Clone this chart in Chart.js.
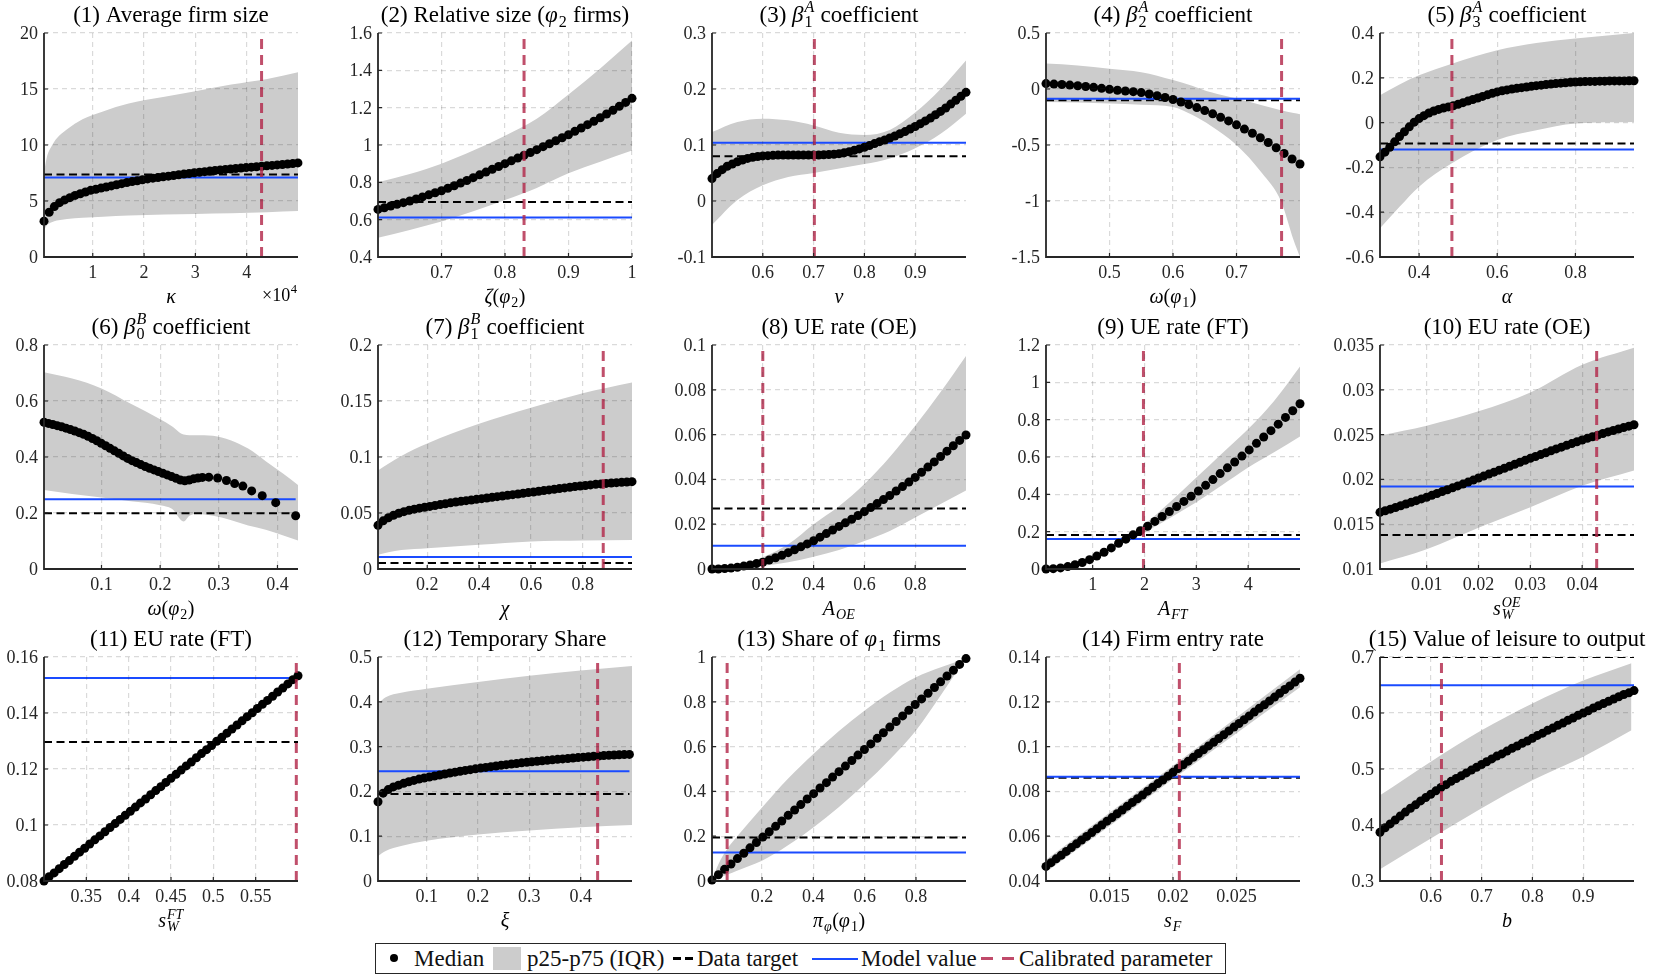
<!DOCTYPE html>
<html><head><meta charset="utf-8">
<script src="https://cdn.jsdelivr.net/npm/chart.js@4.4.1/dist/chart.umd.min.js"></script>
<style>
html,body{margin:0;padding:0;background:#fff;}
body{width:1662px;height:976px;overflow:hidden;position:relative;}
canvas.pn{position:absolute;}
#legend{position:absolute;left:375px;top:943px;width:851px;height:31px;box-sizing:border-box;border:1.4px solid #262626;background:#fff;font:23px 'Liberation Serif',serif;color:#111;white-space:nowrap;}
#legend > *{position:absolute;}
#legend .tx{top:50%;transform:translateY(-52%);line-height:1;}
#legend .dot{width:8px;height:8px;border-radius:50%;background:#000;top:10px;}
#legend .sq{width:28px;height:23px;background:#cccccc;top:3px;}
#legend .dk{width:20px;height:2.5px;top:13px;background:repeating-linear-gradient(90deg,#000 0 8px,transparent 8px 12px);}
#legend .bl{width:46px;height:2px;top:13.5px;background:#1a4bff;}
#legend .rd{width:33px;height:3px;top:13px;background:repeating-linear-gradient(90deg,#c04a6a 0 12px,transparent 12px 21px);}
</style></head><body>
<div id="legend">
 <span class="dot" style="left:14px"></span><span class="tx" style="left:38px">Median</span>
 <span class="sq" style="left:117px"></span><span class="tx" style="left:151px">p25-p75 (IQR)</span>
 <span class="dk" style="left:297px"></span><span class="tx" style="left:321px">Data target</span>
 <span class="bl" style="left:436px"></span><span class="tx" style="left:485px">Model value</span>
 <span class="rd" style="left:605px"></span><span class="tx" style="left:643px">Calibrated parameter</span>
</div>
<script>
// ---------------- DATA ----------------
// (1) Average firm size vs kappa
const p1X=[500,1510,2520,3530,4540,5550,6560,7570,8580,9590,10600,11610,12620,13630,14640,15650,16660,17670,18680,19690,20700,21710,22720,23730,24740,25750,26760,27770,28780,29790,30800,31810,32820,33830,34840,35850,36860,37870,38880,39890,40900,41910,42920,43930,44940,45950,46960,47970,48980,49990];
const p1Med=[3.2,4.0,4.5,4.85,5.1,5.3,5.5,5.65,5.8,5.95,6.05,6.15,6.25,6.35,6.45,6.55,6.65,6.73,6.81,6.9,6.97,7.04,7.1,7.16,7.22,7.28,7.34,7.4,7.46,7.52,7.57,7.62,7.67,7.72,7.77,7.82,7.86,7.9,7.94,7.98,8.02,8.06,8.1,8.14,8.18,8.22,8.26,8.3,8.34,8.4];
const p1BandX=[500,1000,2000,3000,5000,8000,12000,17000,24000,30000,37000,44000,50000];
const p1Hi=[7.5,8.8,9.9,10.6,11.4,12.3,13.0,13.7,14.3,14.8,15.4,15.9,16.5];
const p1Lo=[2.4,2.8,3.1,3.25,3.4,3.5,3.6,3.7,3.8,3.85,3.9,4.0,4.1];
const p1Target=7.37, p1Model=7.10, p1Calib=42900;
const p1XRange=[500,50000], p1YRange=[0,20];
const p1XTicks=[10000,20000,30000,40000], p1XTickLabels=['1','2','3','4'];
const p1YTicks=[0,5,10,15,20];

// (2) Relative size
const p2X=[0.60,0.61,0.62,0.63,0.64,0.65,0.66,0.67,0.68,0.69,0.70,0.71,0.72,0.73,0.74,0.75,0.76,0.77,0.78,0.79,0.80,0.81,0.82,0.83,0.84,0.85,0.86,0.87,0.88,0.89,0.90,0.91,0.92,0.93,0.94,0.95,0.96,0.97,0.98,0.99,1.00];
const p2Med=[0.655,0.664,0.673,0.682,0.691,0.700,0.711,0.722,0.733,0.744,0.755,0.768,0.782,0.796,0.810,0.825,0.840,0.855,0.870,0.885,0.900,0.915,0.930,0.945,0.960,0.975,0.991,1.007,1.023,1.039,1.055,1.073,1.091,1.109,1.127,1.146,1.166,1.186,1.207,1.228,1.250];
const p2BandX=[0.6,0.65,0.7,0.75,0.8,0.85,0.9,0.95,1.0];
const p2Hi=[0.80,0.845,0.90,0.97,1.05,1.14,1.27,1.41,1.56];
const p2Lo=[0.503,0.545,0.59,0.645,0.705,0.77,0.848,0.91,0.97];
const p2Target=0.694, p2Model=0.612, p2Calib=0.83;
const p2XRange=[0.6,1.0], p2YRange=[0.4,1.6];
const p2XTicks=[0.7,0.8,0.9,1], p2YTicks=[0.4,0.6,0.8,1,1.2,1.4,1.6];

// (3) beta1A
const p3X=[0.50,0.51,0.52,0.53,0.54,0.55,0.56,0.57,0.58,0.59,0.60,0.61,0.62,0.63,0.64,0.65,0.66,0.67,0.68,0.69,0.70,0.71,0.72,0.73,0.74,0.75,0.76,0.77,0.78,0.79,0.80,0.81,0.82,0.83,0.84,0.85,0.86,0.87,0.88,0.89,0.90,0.91,0.92,0.93,0.94,0.95,0.96,0.97,0.98,0.99,1.00];
const p3Med=[0.040,0.049,0.056,0.062,0.066,0.070,0.073,0.076,0.078,0.0795,0.0805,0.081,0.0815,0.082,0.082,0.082,0.082,0.082,0.082,0.082,0.082,0.0822,0.0825,0.083,0.0835,0.0845,0.086,0.088,0.0905,0.093,0.096,0.099,0.1025,0.106,0.109,0.1125,0.116,0.120,0.124,0.1285,0.133,0.138,0.143,0.148,0.154,0.160,0.166,0.173,0.180,0.187,0.194];
const p3BandX=[0.5,0.55,0.6,0.65,0.7,0.75,0.8,0.85,0.9,0.95,1.0];
const p3Hi=[0.123,0.141,0.147,0.144,0.135,0.122,0.118,0.127,0.158,0.20,0.251];
const p3Lo=[-0.043,0.0016,0.028,0.043,0.050,0.058,0.066,0.076,0.094,0.12,0.156];
const p3Target=0.080, p3Model=0.104, p3Calib=0.7015;
const p3XRange=[0.5,1.0], p3YRange=[-0.1,0.3];
const p3XTicks=[0.6,0.7,0.8,0.9], p3YTicks=[-0.1,0,0.1,0.2,0.3];

// (4) beta2A
const p4X=[0.4,0.4125,0.425,0.4375,0.45,0.4625,0.475,0.4875,0.5,0.5125,0.525,0.5375,0.55,0.5625,0.575,0.5875,0.6,0.6125,0.625,0.6375,0.65,0.6625,0.675,0.6875,0.7,0.7125,0.725,0.7375,0.75,0.7625,0.775,0.7875,0.8];
const p4Med=[0.048,0.044,0.040,0.035,0.029,0.022,0.015,0.006,-0.003,-0.011,-0.018,-0.024,-0.032,-0.045,-0.06,-0.076,-0.094,-0.116,-0.14,-0.166,-0.193,-0.222,-0.253,-0.285,-0.32,-0.358,-0.395,-0.435,-0.478,-0.525,-0.575,-0.625,-0.67];
const p4BandX=[0.4,0.45,0.5,0.55,0.6,0.63,0.66,0.7,0.74,0.77,0.79,0.8];
const p4Hi=[0.227,0.21,0.18,0.15,0.08,0.03,-0.03,-0.085,-0.145,-0.19,-0.215,-0.225];
const p4Lo=[-0.115,-0.12,-0.13,-0.14,-0.16,-0.23,-0.33,-0.5,-0.75,-1.0,-1.35,-1.5];
const p4Target=-0.10, p4Model=-0.088, p4Calib=0.771;
const p4XRange=[0.4,0.8], p4YRange=[-1.5,0.5];
const p4XTicks=[0.5,0.6,0.7], p4YTicks=[-1.5,-1,-0.5,0,0.5];

// (5) beta3A
const p5X=[0.3,0.3125,0.325,0.3375,0.35,0.3625,0.375,0.3875,0.4,0.4125,0.425,0.4375,0.45,0.4625,0.475,0.4875,0.5,0.5125,0.525,0.5375,0.55,0.5625,0.575,0.5875,0.6,0.6125,0.625,0.6375,0.65,0.6625,0.675,0.6875,0.7,0.7125,0.725,0.7375,0.75,0.7625,0.775,0.7875,0.8,0.8125,0.825,0.8375,0.85,0.8625,0.875,0.8875,0.9,0.9125,0.925,0.9375,0.95];
const p5Med=[-0.153,-0.132,-0.11,-0.086,-0.062,-0.041,-0.019,0.002,0.018,0.031,0.043,0.052,0.059,0.065,0.07,0.075,0.082,0.089,0.096,0.103,0.11,0.117,0.124,0.131,0.137,0.142,0.146,0.15,0.153,0.156,0.159,0.162,0.165,0.167,0.17,0.172,0.174,0.176,0.178,0.18,0.181,0.182,0.183,0.184,0.184,0.185,0.185,0.186,0.186,0.186,0.186,0.187,0.187];
const p5BandX=[0.3,0.35,0.4,0.484,0.6,0.7,0.8,0.95];
const p5Hi=[0.122,0.17,0.211,0.263,0.323,0.355,0.375,0.40];
const p5Lo=[-0.472,-0.376,-0.286,-0.182,-0.078,-0.034,-0.004,0.003];
const p5Target=-0.093, p5Model=-0.12, p5Calib=0.484;
const p5XRange=[0.3,0.95], p5YRange=[-0.6,0.4];
const p5XTicks=[0.4,0.6,0.8], p5YTicks=[-0.6,-0.4,-0.2,0,0.2,0.4];

// (6) beta0B
const p6X=[0.002,0.0095,0.017,0.0245,0.032,0.0395,0.047,0.0545,0.062,0.0695,0.077,0.0845,0.092,0.0995,0.107,0.1145,0.122,0.1295,0.137,0.1445,0.152,0.1595,0.167,0.1745,0.182,0.1895,0.197,0.2045,0.212,0.2195,0.227,0.2345,0.242,0.2495,0.257,0.2645,0.272,0.283,0.298,0.313,0.327,0.341,0.356,0.374,0.397,0.431];
const p6Med=[0.524,0.520,0.516,0.512,0.508,0.503,0.498,0.493,0.487,0.481,0.474,0.466,0.458,0.449,0.44,0.431,0.422,0.413,0.404,0.395,0.387,0.38,0.373,0.366,0.36,0.354,0.348,0.342,0.336,0.33,0.324,0.318,0.315,0.318,0.322,0.325,0.327,0.328,0.325,0.316,0.305,0.296,0.279,0.262,0.237,0.19];
const p6BandX=[0.002,0.05,0.1,0.15,0.2,0.22,0.24,0.25,0.26,0.29,0.32,0.35,0.38,0.41,0.435];
const p6Hi=[0.703,0.68,0.645,0.59,0.535,0.51,0.48,0.478,0.478,0.476,0.46,0.43,0.385,0.34,0.30];
const p6Lo=[0.282,0.268,0.255,0.242,0.228,0.215,0.17,0.19,0.196,0.19,0.175,0.155,0.14,0.12,0.102];
const p6Target=0.199, p6Model=0.249, p6Calib=null;
const p6XRange=[0.002,0.435], p6YRange=[0,0.8];
const p6XTicks=[0.1,0.2,0.3,0.4], p6YTicks=[0,0.2,0.4,0.6,0.8];

// (7) beta1B
const p7X=[0.01,0.03,0.05,0.07,0.09,0.11,0.13,0.15,0.17,0.19,0.21,0.23,0.25,0.27,0.29,0.31,0.33,0.35,0.37,0.39,0.41,0.43,0.45,0.47,0.49,0.51,0.53,0.55,0.57,0.59,0.61,0.63,0.65,0.67,0.69,0.71,0.73,0.75,0.77,0.79,0.81,0.83,0.85,0.87,0.89,0.91,0.93,0.95,0.97,0.99];
const p7Med=[0.0390,0.0430,0.0458,0.0480,0.0498,0.0512,0.0524,0.0534,0.0543,0.0551,0.0559,0.0567,0.0575,0.0583,0.0591,0.0598,0.0604,0.0610,0.0616,0.0622,0.0628,0.0634,0.0640,0.0646,0.0652,0.0658,0.0664,0.0670,0.0676,0.0682,0.0688,0.0694,0.0700,0.0706,0.0712,0.0718,0.0724,0.0730,0.0736,0.0741,0.0746,0.0751,0.0756,0.0760,0.0764,0.0768,0.0771,0.0774,0.0777,0.0780];
const p7BandX=[0.01,0.05,0.1,0.2,0.4,0.6,0.8,0.99];
const p7Hi=[0.088,0.094,0.101,0.112,0.1296,0.144,0.157,0.1666];
const p7Lo=[0.0127,0.015,0.017,0.0186,0.0216,0.0246,0.0255,0.026];
const p7Target=0.0053, p7Model=0.0107, p7Calib=0.879;
const p7XRange=[0.01,0.99], p7YRange=[0,0.2];
const p7XTicks=[0.2,0.4,0.6,0.8], p7YTicks=[0,0.05,0.1,0.15,0.2];

// (8) UE rate (OE)
const p8X=[0,0.025,0.05,0.075,0.1,0.125,0.15,0.175,0.2,0.225,0.25,0.275,0.3,0.325,0.35,0.375,0.4,0.425,0.45,0.475,0.5,0.525,0.55,0.575,0.6,0.625,0.65,0.675,0.7,0.725,0.75,0.775,0.8,0.825,0.85,0.875,0.9,0.925,0.95,0.975,1.0];
const p8Med=[0.0000,0.0000,0.0002,0.0004,0.0008,0.0013,0.0018,0.0024,0.0030,0.0040,0.0050,0.0061,0.0073,0.0086,0.0099,0.0112,0.0126,0.0142,0.0158,0.0174,0.0190,0.0206,0.0222,0.0239,0.0256,0.0274,0.0292,0.0310,0.0328,0.0348,0.0368,0.0388,0.0409,0.0432,0.0455,0.0478,0.0502,0.0526,0.0550,0.0574,0.0598];
const p8BandX=[0,0.1,0.2,0.3,0.4,0.5,0.6,0.7,0.8,0.9,1.0];
const p8Hi=[0,0.0015,0.0052,0.011,0.020,0.028,0.0379,0.050,0.0639,0.079,0.0951];
const p8Lo=[0,0.0004,0.0015,0.003,0.0055,0.0085,0.0125,0.017,0.023,0.029,0.035];
const p8Target=0.027, p8Model=0.0104, p8Calib=0.2;
const p8XRange=[0,1.0], p8YRange=[0,0.1];
const p8XTicks=[0.2,0.4,0.6,0.8], p8YTicks=[0,0.02,0.04,0.06,0.08,0.1];

// (9) UE rate (FT)
const p9X=[0.1,0.24,0.38,0.52,0.66,0.8,0.94,1.08,1.22,1.36,1.5,1.64,1.78,1.92,2.06,2.2,2.34,2.48,2.62,2.76,2.9,3.04,3.18,3.32,3.46,3.6,3.74,3.88,4.02,4.16,4.3,4.44,4.58,4.72,4.86,5.0];
const p9Med=[0.000,0.002,0.006,0.013,0.023,0.035,0.050,0.069,0.090,0.113,0.138,0.160,0.183,0.205,0.229,0.255,0.281,0.308,0.335,0.362,0.390,0.418,0.448,0.479,0.511,0.542,0.573,0.605,0.638,0.673,0.707,0.741,0.776,0.812,0.848,0.885];
const p9BandX=[0.1,0.5,1.0,1.5,2.0,2.5,3.0,3.5,4.0,4.5,5.0];
const p9Hi=[0.002,0.015,0.068,0.148,0.24,0.36,0.49,0.62,0.75,0.9,1.085];
const p9Lo=[0,0.009,0.05,0.128,0.196,0.275,0.357,0.45,0.544,0.625,0.71];
const p9Target=0.182, p9Model=0.1605, p9Calib=1.98;
const p9XRange=[0.1,5.0], p9YRange=[0,1.2];
const p9XTicks=[1,2,3,4], p9YTicks=[0,0.2,0.4,0.6,0.8,1,1.2];

// (10) EU rate (OE)
const p10X=[0.001,0.002,0.003,0.004,0.005,0.006,0.007,0.008,0.009,0.010,0.011,0.012,0.013,0.014,0.015,0.016,0.017,0.018,0.019,0.020,0.021,0.022,0.023,0.024,0.025,0.026,0.027,0.028,0.029,0.030,0.031,0.032,0.033,0.034,0.035,0.036,0.037,0.038,0.039,0.040,0.041,0.042,0.043,0.044,0.045,0.046,0.047,0.048,0.049,0.050];
const p10Med=[0.01632,0.01650,0.01668,0.01687,0.01706,0.01725,0.01744,0.01763,0.01782,0.01801,0.01822,0.01843,0.01864,0.01885,0.01906,0.01927,0.01948,0.01970,0.01992,0.02015,0.02037,0.02059,0.02081,0.02103,0.02125,0.02147,0.02169,0.02191,0.02213,0.02235,0.02256,0.02277,0.02298,0.02319,0.02340,0.02360,0.02380,0.02400,0.02420,0.02440,0.02458,0.02476,0.02494,0.02512,0.02530,0.02546,0.02562,0.02578,0.02594,0.02610];
const p10BandX=[0.001,0.01,0.02,0.03,0.04,0.05];
const p10Hi=[0.0249,0.026,0.0276,0.0297,0.0328,0.0347];
const p10Lo=[0.0106,0.0122,0.0146,0.0169,0.0193,0.021];
const p10Target=0.0138, p10Model=0.0192, p10Calib=0.0428;
const p10XRange=[0.001,0.05], p10YRange=[0.01,0.035];
const p10XTicks=[0.01,0.02,0.03,0.04], p10YTicks=[0.01,0.015,0.02,0.025,0.03,0.035];

// (11) EU rate (FT)
const p11X=[0.300,0.306,0.312,0.318,0.324,0.330,0.336,0.342,0.348,0.354,0.360,0.366,0.372,0.378,0.384,0.390,0.396,0.402,0.408,0.414,0.420,0.426,0.432,0.438,0.444,0.450,0.456,0.462,0.468,0.474,0.480,0.486,0.492,0.498,0.504,0.510,0.516,0.522,0.528,0.534,0.540,0.546,0.552,0.558,0.564,0.570,0.576,0.582,0.588,0.594,0.600];
const p11Med=[0.0800,0.0815,0.0829,0.0844,0.0859,0.0873,0.0888,0.0903,0.0917,0.0932,0.0947,0.0961,0.0976,0.0991,0.1005,0.1020,0.1035,0.1049,0.1064,0.1079,0.1093,0.1108,0.1123,0.1137,0.1152,0.1167,0.1181,0.1196,0.1211,0.1225,0.1240,0.1255,0.1269,0.1284,0.1299,0.1313,0.1328,0.1343,0.1357,0.1372,0.1387,0.1401,0.1416,0.1431,0.1445,0.1460,0.1475,0.1489,0.1504,0.1519,0.1533];
const p11BandX=[], p11Hi=[], p11Lo=[];
const p11Target=0.1296, p11Model=0.1525, p11Calib=0.598;
const p11XRange=[0.3,0.6], p11YRange=[0.08,0.16];
const p11XTicks=[0.35,0.4,0.45,0.5,0.55], p11YTicks=[0.08,0.1,0.12,0.14,0.16];

// (12) Temporary share
const p12X=[0.005,0.015,0.025,0.035,0.045,0.055,0.065,0.075,0.085,0.095,0.105,0.115,0.125,0.135,0.145,0.155,0.165,0.175,0.185,0.195,0.205,0.215,0.225,0.235,0.245,0.255,0.265,0.275,0.285,0.295,0.305,0.315,0.325,0.335,0.345,0.355,0.365,0.375,0.385,0.395,0.405,0.415,0.425,0.435,0.445,0.455,0.465,0.475,0.485,0.495];
const p12Med=[0.177,0.196,0.204,0.210,0.214,0.218,0.2215,0.2245,0.2275,0.230,0.2322,0.2345,0.2367,0.2389,0.241,0.243,0.245,0.2468,0.2486,0.2503,0.252,0.2536,0.2552,0.2568,0.2583,0.2597,0.2611,0.2624,0.2637,0.2649,0.2661,0.2672,0.2683,0.2694,0.2705,0.2715,0.2725,0.2735,0.2745,0.2755,0.2764,0.2773,0.2782,0.2791,0.2799,0.2806,0.2812,0.2817,0.2821,0.2825];
const p12BandX=[0.005,0.02,0.05,0.1,0.2,0.3,0.4,0.5];
const p12Hi=[0.395,0.41,0.42,0.429,0.444,0.458,0.47,0.48];
const p12Lo=[0.056,0.067,0.078,0.09,0.104,0.113,0.12,0.125];
const p12Target=0.194, p12Model=0.2448, p12Calib=0.433;
const p12XRange=[0.005,0.5], p12YRange=[0,0.5];
const p12XTicks=[0.1,0.2,0.3,0.4], p12YTicks=[0,0.1,0.2,0.3,0.4,0.5];

// (13) Share of phi1 firms
const p13X=[0.005,0.030,0.054,0.079,0.104,0.129,0.153,0.178,0.203,0.228,0.253,0.277,0.302,0.327,0.351,0.376,0.401,0.426,0.451,0.475,0.500,0.525,0.550,0.574,0.599,0.624,0.649,0.673,0.698,0.723,0.748,0.772,0.797,0.822,0.847,0.872,0.896,0.921,0.946,0.970,0.995];
const p13Med=[0.004,0.028,0.052,0.076,0.100,0.124,0.148,0.172,0.196,0.220,0.244,0.268,0.293,0.317,0.341,0.366,0.390,0.415,0.439,0.464,0.488,0.513,0.538,0.562,0.587,0.612,0.637,0.662,0.687,0.712,0.737,0.762,0.788,0.813,0.838,0.864,0.889,0.915,0.941,0.967,0.993];
const p13BandX=[0.005,0.03,0.068,0.1,0.2,0.3,0.4,0.5,0.6,0.7,0.8,0.9,0.95,0.995];
const p13Hi=[0.005,0.075,0.149,0.195,0.328,0.455,0.567,0.67,0.761,0.843,0.91,0.955,0.975,0.993];
const p13Lo=[0.003,0.015,0.03,0.045,0.09,0.158,0.239,0.33,0.433,0.545,0.672,0.835,0.92,0.993];
const p13Target=0.194, p13Model=0.127, p13Calib=0.064;
const p13XRange=[0.005,0.995], p13YRange=[0,1];
const p13XTicks=[0.2,0.4,0.6,0.8], p13YTicks=[0,0.2,0.4,0.6,0.8,1];

// (14) Firm entry rate
const p14X=[0.0100,0.0104,0.0108,0.0112,0.0116,0.0120,0.0124,0.0128,0.0132,0.0136,0.0140,0.0144,0.0148,0.0152,0.0156,0.0160,0.0164,0.0168,0.0172,0.0176,0.0180,0.0184,0.0188,0.0192,0.0196,0.0200,0.0204,0.0208,0.0212,0.0216,0.0220,0.0224,0.0228,0.0232,0.0236,0.0240,0.0244,0.0248,0.0252,0.0256,0.0260,0.0264,0.0268,0.0272,0.0276,0.0280,0.0284,0.0288,0.0292,0.0296,0.0300];
const p14Med=[0.0465,0.0482,0.0499,0.0515,0.0532,0.0549,0.0566,0.0583,0.0599,0.0616,0.0633,0.0650,0.0667,0.0683,0.0700,0.0717,0.0734,0.0751,0.0767,0.0784,0.0801,0.0818,0.0835,0.0851,0.0868,0.0885,0.0902,0.0919,0.0935,0.0952,0.0969,0.0986,0.1003,0.1019,0.1036,0.1053,0.1070,0.1087,0.1103,0.1120,0.1137,0.1154,0.1171,0.1187,0.1204,0.1221,0.1238,0.1255,0.1271,0.1288,0.1305];
const p14BandX=[0.01,0.015,0.02,0.025,0.03];
const p14Hi=[0.0495,0.0705,0.0915,0.113,0.1345];
const p14Lo=[0.044,0.0645,0.0855,0.106,0.1265];
const p14Target=0.0861, p14Model=0.0865, p14Calib=0.0205;
const p14XRange=[0.01,0.03], p14YRange=[0.04,0.14];
const p14XTicks=[0.015,0.02,0.025], p14YTicks=[0.04,0.06,0.08,0.1,0.12,0.14];

// (15) Value of leisure to output
const p15X=[0.50,0.51,0.52,0.53,0.54,0.55,0.56,0.57,0.58,0.59,0.60,0.61,0.62,0.63,0.64,0.65,0.66,0.67,0.68,0.69,0.70,0.71,0.72,0.73,0.74,0.75,0.76,0.77,0.78,0.79,0.80,0.81,0.82,0.83,0.84,0.85,0.86,0.87,0.88,0.89,0.90,0.91,0.92,0.93,0.94,0.95,0.96,0.97,0.98,0.99,1.00];
const p15Med=[0.387,0.395,0.402,0.409,0.416,0.423,0.430,0.436,0.443,0.449,0.455,0.461,0.467,0.472,0.478,0.483,0.488,0.493,0.498,0.503,0.508,0.513,0.518,0.523,0.527,0.532,0.537,0.541,0.546,0.550,0.555,0.560,0.564,0.569,0.573,0.578,0.582,0.587,0.591,0.596,0.600,0.604,0.609,0.613,0.617,0.621,0.625,0.629,0.633,0.636,0.640];
const p15BandX=[0.5,0.6,0.7,0.8,0.9,0.995];
const p15Hi=[0.453,0.513,0.569,0.617,0.658,0.689];
const p15Lo=[0.321,0.376,0.43,0.48,0.522,0.569];
const p15Target=0.70, p15Model=0.6495, p15Calib=0.621;
const p15XRange=[0.5,1.0], p15YRange=[0.3,0.7];
const p15XTicks=[0.6,0.7,0.8,0.9], p15YTicks=[0.3,0.4,0.5,0.6,0.7];

// ---------------- RENDERING ----------------
const FONT="'Liberation Serif', serif";
Chart.defaults.font.family=FONT;
const BAND='#cccccc', BLUE='#1a4bff', RED='rgba(178,40,74,0.82)', GRID='rgba(38,38,38,0.17)', AX='#262626';
const LEFTS=[44,378,712,1046,1380], TOPS=[33,345,657], PW=254, PH=224;
const ML=62, MT=40, MR=34, MB=62;
const TICK=18;

function R(t,o){return Object.assign({t:t,i:false},o||{});}
function I(t,o){return Object.assign({t:t,i:true},o||{});}
function fnt(s,it){return (it?'italic ':'')+s+"px 'Liberation Serif'";}
function drawRich(ctx,parts,cx,by,size,align){
  const ss=size*0.7; let total=0;
  const segs=parts.map(p=>{
    ctx.font=fnt(size,p.i); const w0=p.t?ctx.measureText(p.t).width:0;
    let w1=0,w2=0;
    if(p.sub){ctx.font=fnt(ss,p.si);w1=ctx.measureText(p.sub).width;}
    if(p.sup){ctx.font=fnt(ss,p.pi);w2=ctx.measureText(p.sup).width;}
    const w=w0+Math.max(w1,w2)+((p.sub||p.sup)?1.5:0);
    total+=w; return {p:p,w0:w0,w:w};
  });
  let x=align==='center'?cx-total/2:(align==='right'?cx-total:cx);
  ctx.textBaseline='alphabetic'; ctx.textAlign='left'; ctx.fillStyle='#000';
  segs.forEach(s=>{
    const p=s.p;
    if(p.t){ctx.font=fnt(size,p.i);ctx.fillText(p.t,x,by);}
    const xs=x+s.w0+(p.i?1:0.5);
    if(p.sub){ctx.font=fnt(ss,p.si);ctx.fillText(p.sub,xs,by+size*0.22);}
    if(p.sup){ctx.font=fnt(ss,p.pi);ctx.fillText(p.sup,xs,by-size*0.42);}
    x+=s.w;
  });
}
function pts(xs,ys){const n=Math.min(xs.length,ys.length),o=[];for(let i=0;i<n;i++)o.push({x:xs[i],y:ys[i]});return o;}

const panels=[
 {title:[R('(1) Average firm size')], xlabel:[I('κ')], exp:true,
  x:p1X,med:p1Med,bx:p1BandX,hi:p1Hi,lo:p1Lo,target:p1Target,model:p1Model,calib:p1Calib,xr:p1XRange,yr:p1YRange,xt:p1XTicks,xtl:p1XTickLabels,yt:p1YTicks},
 {title:[R('(2) Relative size ('),I('φ',{sub:'2'}),R(' firms)')], xlabel:[I('ζ'),R('('),I('φ',{sub:'2'}),R(')')],
  x:p2X,med:p2Med,bx:p2BandX,hi:p2Hi,lo:p2Lo,target:p2Target,model:p2Model,calib:p2Calib,xr:p2XRange,yr:p2YRange,xt:p2XTicks,yt:p2YTicks},
 {title:[R('(3) '),I('β',{sub:'1',sup:'A',pi:true}),R(' coefficient')], xlabel:[I('ν')],
  x:p3X,med:p3Med,bx:p3BandX,hi:p3Hi,lo:p3Lo,target:p3Target,model:p3Model,calib:p3Calib,xr:p3XRange,yr:p3YRange,xt:p3XTicks,yt:p3YTicks},
 {title:[R('(4) '),I('β',{sub:'2',sup:'A',pi:true}),R(' coefficient')], xlabel:[I('ω'),R('('),I('φ',{sub:'1'}),R(')')],
  x:p4X,med:p4Med,bx:p4BandX,hi:p4Hi,lo:p4Lo,target:p4Target,model:p4Model,calib:p4Calib,xr:p4XRange,yr:p4YRange,xt:p4XTicks,yt:p4YTicks},
 {title:[R('(5) '),I('β',{sub:'3',sup:'A',pi:true}),R(' coefficient')], xlabel:[I('α')],
  x:p5X,med:p5Med,bx:p5BandX,hi:p5Hi,lo:p5Lo,target:p5Target,model:p5Model,calib:p5Calib,xr:p5XRange,yr:p5YRange,xt:p5XTicks,yt:p5YTicks},
 {title:[R('(6) '),I('β',{sub:'0',sup:'B',pi:true}),R(' coefficient')], xlabel:[I('ω'),R('('),I('φ',{sub:'2'}),R(')')],
  x:p6X,med:p6Med,bx:p6BandX,hi:p6Hi,lo:p6Lo,target:p6Target,model:p6Model,calib:p6Calib,xr:p6XRange,yr:p6YRange,xt:p6XTicks,yt:p6YTicks},
 {title:[R('(7) '),I('β',{sub:'1',sup:'B',pi:true}),R(' coefficient')], xlabel:[I('χ')],
  x:p7X,med:p7Med,bx:p7BandX,hi:p7Hi,lo:p7Lo,target:p7Target,model:p7Model,calib:p7Calib,xr:p7XRange,yr:p7YRange,xt:p7XTicks,yt:p7YTicks},
 {title:[R('(8) UE rate (OE)')], xlabel:[I('A',{sub:'OE',si:true})],
  x:p8X,med:p8Med,bx:p8BandX,hi:p8Hi,lo:p8Lo,target:p8Target,model:p8Model,calib:p8Calib,xr:p8XRange,yr:p8YRange,xt:p8XTicks,yt:p8YTicks},
 {title:[R('(9) UE rate (FT)')], xlabel:[I('A',{sub:'FT',si:true})],
  x:p9X,med:p9Med,bx:p9BandX,hi:p9Hi,lo:p9Lo,target:p9Target,model:p9Model,calib:p9Calib,xr:p9XRange,yr:p9YRange,xt:p9XTicks,yt:p9YTicks},
 {title:[R('(10) EU rate (OE)')], xlabel:[I('s',{sub:'W',si:true,sup:'OE',pi:true})],
  x:p10X,med:p10Med,bx:p10BandX,hi:p10Hi,lo:p10Lo,target:p10Target,model:p10Model,calib:p10Calib,xr:p10XRange,yr:p10YRange,xt:p10XTicks,yt:p10YTicks},
 {title:[R('(11) EU rate (FT)')], xlabel:[I('s',{sub:'W',si:true,sup:'FT',pi:true})],
  x:p11X,med:p11Med,bx:p11BandX,hi:p11Hi,lo:p11Lo,target:p11Target,model:p11Model,calib:p11Calib,xr:p11XRange,yr:p11YRange,xt:p11XTicks,yt:p11YTicks},
 {title:[R('(12) Temporary Share')], xlabel:[I('ξ')],
  x:p12X,med:p12Med,bx:p12BandX,hi:p12Hi,lo:p12Lo,target:p12Target,model:p12Model,calib:p12Calib,xr:p12XRange,yr:p12YRange,xt:p12XTicks,yt:p12YTicks},
 {title:[R('(13) Share of '),I('φ',{sub:'1'}),R(' firms')], xlabel:[I('π',{sub:'φ',si:true}),R('('),I('φ',{sub:'1'}),R(')')],
  x:p13X,med:p13Med,bx:p13BandX,hi:p13Hi,lo:p13Lo,target:p13Target,model:p13Model,calib:p13Calib,xr:p13XRange,yr:p13YRange,xt:p13XTicks,yt:p13YTicks},
 {title:[R('(14) Firm entry rate')], xlabel:[I('s',{sub:'F',si:true})],
  x:p14X,med:p14Med,bx:p14BandX,hi:p14Hi,lo:p14Lo,target:p14Target,model:p14Model,calib:p14Calib,xr:p14XRange,yr:p14YRange,xt:p14XTicks,yt:p14YTicks},
 {title:[R('(15) Value of leisure to output')], xlabel:[I('b')],
  x:p15X,med:p15Med,bx:p15BandX,hi:p15Hi,lo:p15Lo,target:p15Target,model:p15Model,calib:p15Calib,xr:p15XRange,yr:p15YRange,xt:p15XTicks,yt:p15YTicks}
];

function makeDecor(P){
  return {id:'decor',afterDraw(chart){
    const ctx=chart.ctx,a=chart.chartArea,xs=chart.scales.x,ys=chart.scales.y;
    ctx.save(); ctx.setLineDash([]);
    ctx.strokeStyle=AX; ctx.lineWidth=1.2; ctx.beginPath();
    xs.ticks.forEach(t=>{const px=xs.getPixelForValue(t.value);ctx.moveTo(px,a.bottom);ctx.lineTo(px,a.bottom-4);});
    ys.ticks.forEach(t=>{const py=ys.getPixelForValue(t.value);ctx.moveTo(a.left,py);ctx.lineTo(a.left+4,py);});
    ctx.stroke();
    ctx.lineWidth=1.8; ctx.beginPath(); ctx.moveTo(a.left,a.top); ctx.lineTo(a.left,a.bottom); ctx.lineTo(a.right,a.bottom); ctx.stroke();
    // tick labels, placed with the scales
    ctx.font=fnt(TICK,false); ctx.fillStyle=AX; ctx.textBaseline='alphabetic';
    ctx.textAlign='center';
    xs.ticks.forEach((t,k)=>{const lab=P.xtl?P.xtl[k]:String(t.value);ctx.fillText(lab,xs.getPixelForValue(t.value),a.bottom+21);});
    ctx.textAlign='right';
    ys.ticks.forEach(t=>{ctx.fillText(String(t.value),a.left-6,ys.getPixelForValue(t.value)+6);});
    drawRich(ctx,P.title,(a.left+a.right)/2,a.top-11,23,'center');
    drawRich(ctx,P.xlabel,(a.left+a.right)/2,a.bottom+46,20,'center');
    if(P.exp) drawRich(ctx,[R('×10',{sup:'4'})],a.right,a.bottom+44,18,'right');
    ctx.restore();
  }};
}

panels.forEach((P,i)=>{
  const col=i%5,row=Math.floor(i/5);
  const cv=document.createElement('canvas');
  cv.className='pn'; cv.width=PW+ML+MR; cv.height=PH+MT+MB;
  cv.style.left=(LEFTS[col]-ML)+'px'; cv.style.top=(TOPS[row]-MT)+'px';
  cv.style.width=cv.width+'px'; cv.style.height=cv.height+'px';
  document.body.appendChild(cv);
  const ymin=P.yr[0],ymax=P.yr[1];
  const lx0=P.x[0],lx1=P.x[P.x.length-1];
  const ds=[];
  if(P.bx.length){
    ds.push({data:pts(P.bx,P.lo),borderWidth:0,borderColor:'rgba(0,0,0,0)',pointRadius:0,fill:false,cubicInterpolationMode:'monotone',order:6});
    ds.push({data:pts(P.bx,P.hi),borderWidth:0,borderColor:'rgba(0,0,0,0)',pointRadius:0,fill:'-1',backgroundColor:BAND,cubicInterpolationMode:'monotone',order:5});
  }
  ds.push({data:[{x:lx0,y:P.target},{x:lx1,y:P.target}],borderColor:'#000',borderWidth:2,borderDash:[8,4.5],pointRadius:0,fill:false,order:4});
  ds.push({data:[{x:lx0,y:P.model},{x:lx1,y:P.model}],borderColor:BLUE,borderWidth:2,pointRadius:0,fill:false,order:3});
  ds.push({data:pts(P.x,P.med),showLine:false,pointRadius:4.5,pointBackgroundColor:'#000',pointBorderColor:'#000',pointBorderWidth:0,fill:false,clip:false,order:2});
  if(P.calib!==null) ds.push({data:[{x:P.calib,y:ymin},{x:P.calib,y:ymax}],borderColor:RED,borderWidth:3,borderDash:[10,6],pointRadius:0,fill:false,order:1});
  new Chart(cv,{type:'line',data:{datasets:ds},plugins:[makeDecor(P)],
    options:{responsive:false,animation:false,devicePixelRatio:1,events:[],
      layout:{padding:{top:MT,right:MR,left:0,bottom:0}},
      plugins:{legend:{display:false},tooltip:{enabled:false},title:{display:false}},
      elements:{line:{tension:0}},
      scales:{
        x:{type:'linear',min:P.xr[0],max:P.xr[1],
           afterBuildTicks:s=>{s.ticks=P.xt.map(v=>({value:v}));},
           afterFit:s=>{s.height=MB;},
           ticks:{display:false,autoSkip:false,maxRotation:0},
           grid:{color:GRID,lineWidth:1.2,drawTicks:false,z:1},
           border:{display:false,dash:[5,4]}},
        y:{type:'linear',min:ymin,max:ymax,
           afterBuildTicks:s=>{s.ticks=P.yt.map(v=>({value:v}));},
           afterFit:s=>{s.width=ML;},
           ticks:{display:false,autoSkip:false},
           grid:{color:GRID,lineWidth:1.2,drawTicks:false,z:1},
           border:{display:false,dash:[5,4]}}
      }}});
});
</script>
</body></html>
